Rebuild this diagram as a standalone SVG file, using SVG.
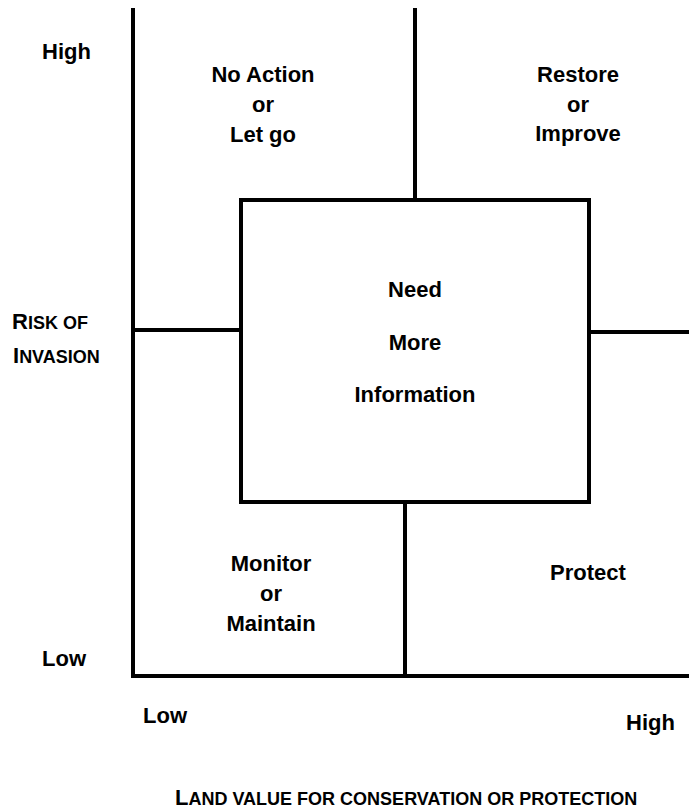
<svg xmlns="http://www.w3.org/2000/svg" width="689" height="811" viewBox="0 0 689 811">
<style>
.t{font-family:"Liberation Sans",Arial,sans-serif;font-weight:bold;font-size:22px;fill:#000;text-anchor:middle}
.l{text-anchor:start}
.sc{font-size:18px}
.ln{stroke:#000;stroke-width:4;fill:none;stroke-linecap:square}
</style>
<rect width="689" height="811" fill="#fff"/>
<g id="connectors">
<line class="ln" x1="133" y1="10" x2="133" y2="676"/>
<line class="ln" x1="133" y1="676" x2="689" y2="676"/>
<line class="ln" x1="415" y1="10" x2="415" y2="200"/>
<line class="ln" x1="133" y1="330" x2="241" y2="330"/>
<line class="ln" x1="589" y1="332" x2="689" y2="332"/>
<line class="ln" x1="405" y1="502" x2="405" y2="676"/>
</g>
<g id="axis-y">
<text class="t l" x="42" y="59">High</text>
<text class="t l" x="42" y="666">Low</text>
<text class="t l" x="12" y="329">R<tspan class="sc">ISK OF</tspan></text>
<text class="t l" x="13" y="363">I<tspan class="sc">NVASION</tspan></text>
</g>
<g id="axis-x">
<text class="t l" x="143" y="723">Low</text>
<text class="t l" x="626" y="730">High</text>
<text class="t l" x="175" y="805">L<tspan class="sc">AND VALUE FOR CONSERVATION OR PROTECTION</tspan></text>
</g>
<g id="no-action">
<text class="t" x="263" y="82">No Action</text>
<text class="t" x="263" y="112">or</text>
<text class="t" x="263" y="142">Let go</text>
</g>
<g id="restore">
<text class="t" x="578" y="82">Restore</text>
<text class="t" x="578" y="112">or</text>
<text class="t" x="578" y="141">Improve</text>
</g>
<g id="need-more-info">
<rect class="ln" x="241" y="200" width="348" height="302"/>
<text class="t" x="415" y="297">Need</text>
<text class="t" x="415" y="350">More</text>
<text class="t" x="415" y="402">Information</text>
</g>
<g id="monitor">
<text class="t" x="271" y="571">Monitor</text>
<text class="t" x="271" y="601">or</text>
<text class="t" x="271" y="631">Maintain</text>
</g>
<g id="protect">
<text class="t" x="588" y="580">Protect</text>
</g>
</svg>
